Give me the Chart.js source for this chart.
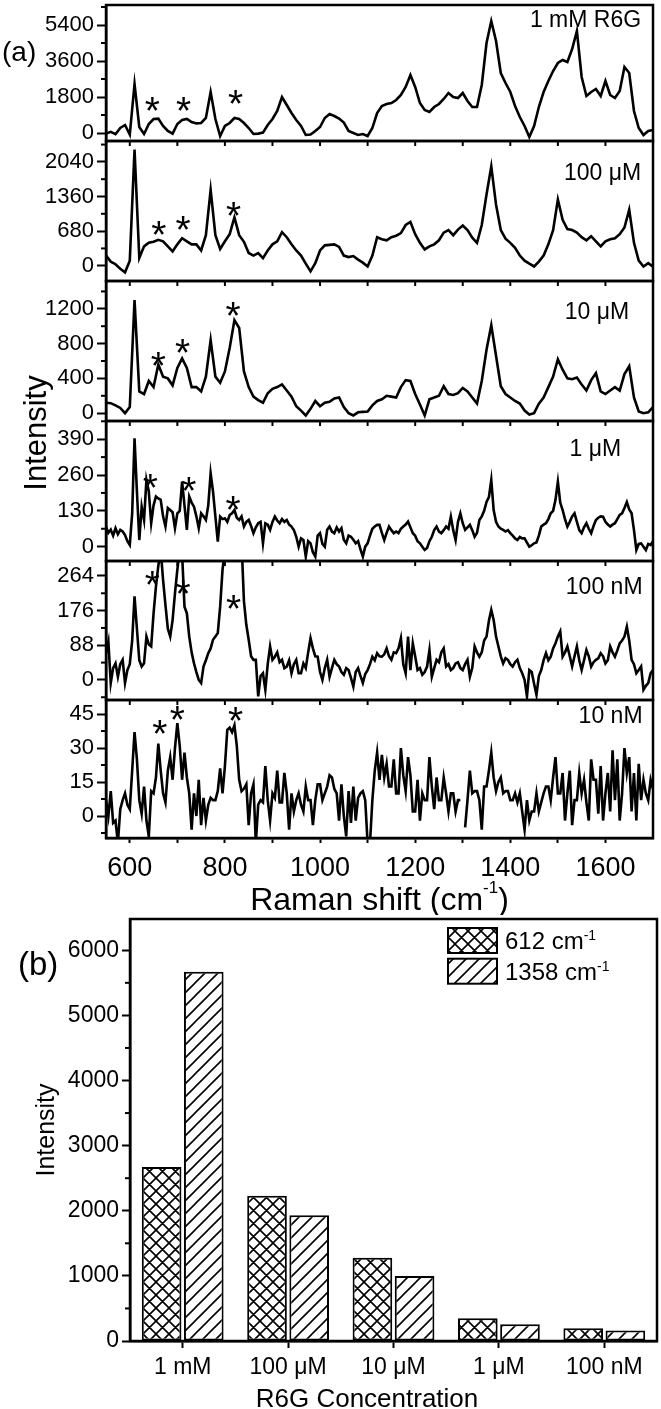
<!DOCTYPE html>
<html>
<head>
<meta charset="utf-8">
<script src="https://cdn.jsdelivr.net/npm/chart.js@4.4.1/dist/chart.umd.min.js"></script>
<style>
  html, body { margin: 0; padding: 0; background: #fff; overflow: hidden; }
  #chA { position: absolute; left: 0; top: 0; }
  #chB { position: absolute; left: 0; top: 905px; }
</style>
</head>
<body>
<canvas id="chA" width="661" height="915"></canvas>
<canvas id="chB" width="661" height="504"></canvas>
<script>
var FONT = '"Liberation Sans", Arial, Helvetica, sans-serif';

// ---- (a) SERS spectra ----
// Raman shift grids, cm-1 (coarse for the clean spectra, fine for the noisy ones)
var shiftCoarse = [
  550, 560, 570, 580, 590, 600, 610, 620, 630, 640,
  650, 660, 670, 680, 690, 700, 710, 720, 730, 740,
  750, 760, 770, 780, 790, 800, 810, 820, 830, 840,
  850, 860, 870, 880, 890, 900, 910, 920, 930, 940,
  950, 960, 970, 980, 990, 1000, 1010, 1020, 1030, 1040,
  1050, 1060, 1070, 1080, 1090, 1100, 1110, 1120, 1130, 1140,
  1150, 1160, 1170, 1180, 1190, 1200, 1210, 1220, 1230, 1240,
  1250, 1260, 1270, 1280, 1290, 1300, 1310, 1320, 1330, 1340,
  1350, 1360, 1370, 1380, 1390, 1400, 1410, 1420, 1430, 1440,
  1450, 1460, 1470, 1480, 1490, 1500, 1510, 1520, 1530, 1540,
  1550, 1560, 1570, 1580, 1590, 1600, 1610, 1620, 1630, 1640,
  1650, 1660, 1670, 1680, 1690, 1700
];
var shiftFine = [
  550, 555, 560, 565, 570, 575, 580, 585, 590, 595,
  600, 605, 610, 615, 620, 625, 630, 635, 640, 645,
  650, 655, 660, 665, 670, 675, 680, 685, 690, 695,
  700, 705, 710, 715, 720, 725, 730, 735, 740, 745,
  750, 755, 760, 765, 770, 775, 780, 785, 790, 795,
  800, 805, 810, 815, 820, 825, 830, 835, 840, 845,
  850, 855, 860, 865, 870, 875, 880, 885, 890, 895,
  900, 905, 910, 915, 920, 925, 930, 935, 940, 945,
  950, 955, 960, 965, 970, 975, 980, 985, 990, 995,
  1000, 1005, 1010, 1015, 1020, 1025, 1030, 1035, 1040, 1045,
  1050, 1055, 1060, 1065, 1070, 1075, 1080, 1085, 1090, 1095,
  1100, 1105, 1110, 1115, 1120, 1125, 1130, 1135, 1140, 1145,
  1150, 1155, 1160, 1165, 1170, 1175, 1180, 1185, 1190, 1195,
  1200, 1205, 1210, 1215, 1220, 1225, 1230, 1235, 1240, 1245,
  1250, 1255, 1260, 1265, 1270, 1275, 1280, 1285, 1290, 1295,
  1300, 1305, 1310, 1315, 1320, 1325, 1330, 1335, 1340, 1345,
  1350, 1355, 1360, 1365, 1370, 1375, 1380, 1385, 1390, 1395,
  1400, 1405, 1410, 1415, 1420, 1425, 1430, 1435, 1440, 1445,
  1450, 1455, 1460, 1465, 1470, 1475, 1480, 1485, 1490, 1495,
  1500, 1505, 1510, 1515, 1520, 1525, 1530, 1535, 1540, 1545,
  1550, 1555, 1560, 1565, 1570, 1575, 1580, 1585, 1590, 1595,
  1600, 1605, 1610, 1615, 1620, 1625, 1630, 1635, 1640, 1645,
  1650, 1655, 1660, 1665, 1670, 1675, 1680, 1685, 1690, 1695,
  1700
];

var int1mM = [
  -30, 60, -60, 250, 400, -80, 2450, 300, -50, 450,
  700, 720, 350, 100, -30, 450, 650, 700, 550, 480,
  500, 750, 2050, 700, -150, 350, 500, 750, 700, 500,
  250, -50, -30, 20, 400, 700, 1100, 1800, 1400, 1000,
  650, 350, -100, -80, 100, 300, 750, 950, 850, 720,
  520, 100, 0, -100, -50, -150, 250, 1000, 1350, 1450,
  1500, 1650, 1900, 2300, 2900, 2300, 1500, 1150, 1050, 1300,
  1450, 1700, 2000, 1800, 1750, 2000, 1600, 1300, 1300, 2400,
  4500, 5600, 4600, 3000, 2500, 2050, 1350, 800, 350, -200,
  350, 1300, 2050, 2600, 3100, 3500, 3650, 3550, 4200, 5100,
  2800, 1850, 2050, 2200, 1850, 2600, 1900, 1750, 2100, 3300,
  3000, 1100, 250, -100, 100, 150
];
var int100uM = [
  200, 80, 30, -60, -130, 100, 2280, 150, 380, 450,
  470, 510, 480, 380, 280, 420, 540, 480, 420, 420,
  300, 600, 1490, 600, 330, 480, 620, 950, 600, 470,
  250, 200, 250, 150, 300, 420, 480, 660, 560, 420,
  300, 200, 40, -110, 50, 300, 400, 410, 420, 370,
  200, 170, 190, 120, 60, -15, 200, 560, 520, 500,
  560, 590, 640, 800, 860, 620, 450, 320, 380, 420,
  500, 650, 700, 600, 710, 790, 700, 550, 450, 800,
  1400, 1950, 1200, 700, 530, 450, 350, 200, 100, 40,
  -15, 80, 200, 420, 700, 1300, 900, 720, 700, 650,
  560, 500, 580, 480, 380, 480, 520, 540, 620, 750,
  1100, 450, 100, -15, 50, -20
];
var int10uM = [
  120, 115, 90, 60, 0, 70, 1300, 250, 220, 370,
  300, 560, 420, 400, 320, 520, 630, 520, 300, 300,
  250, 420, 840, 420, 350, 480, 750, 1070, 980, 480,
  300, 190, 150, 120, 230, 280, 300, 330, 260, 190,
  80, 30, -26, 50, 140, 80, 120, 130, 170, 180,
  70, 0, -26, 10, 15, 20, 90, 140, 160, 200,
  190, 180, 300, 380, 370, 220, 100, -26, 160, 180,
  200, 310, 220, 210, 230, 290, 250, 180, 110, 370,
  730, 1010, 660, 310, 220, 180, 140, 110, 30, -15,
  0, 110, 180, 300, 420, 620, 500, 400, 390, 410,
  330, 260, 380, 460, 250, 220, 260, 300, 260, 450,
  540, 180, 20, 0, 10, 70
];
var int1uM = [
  73, 50, 62, 40, 67, 45, 61, 55, 42, 20,
  6, 120, 393, 200, 24, 145, 97, 242, 200, 85,
  150, 182, 175, 170, 110, 73, 140, 133, 125, 67,
  121, 130, 236, 150, 61, 182, 160, 145, 110, 67,
  121, 110, 97, 150, 266, 200, 109, 18, 109, 100,
  103, 90, 115, 121, 133, 105, 97, 110, 73, 90,
  97, 75, 49, 70, 85, 90, 12, 85, 80, 61,
  90, 109, 95, 85, 100, 90, 97, 80, 73, 60,
  36, 0, 30, 24, -36, 20, 12, -20, -36, 40,
  49, 10, 0, 61, 73, 55, 49, 70, 55, 67,
  25, 12, 40, 36, 25, 12, 20, -10, -36, 0,
  12, 40, 65, 73, 79, 79, 50, 24, 50, 73,
  60, 49, 55, 49, 65, 73, 80, 91, 70, 49,
  40, 20, 12, 0, -12, -5, 20, 36, 60, 73,
  55, 49, 60, 73, 65, 109, 60, 24, 90, 121,
  85, 61, 70, 79, 60, 36, 50, 97, 110, 130,
  162, 180, 242, 133, 90, 73, 65, 61, 55, 60,
  49, 40, 30, 24, 35, 30, 30, 15, 0, 5,
  12, 15, 40, 73, 80, 85, 100, 121, 130, 170,
  236, 160, 133, 100, 73, 90, 110, 121, 90, 60,
  49, 70, 85, 65, 49, 75, 97, 105, 110, 109,
  90, 80, 73, 80, 85, 100, 115, 121, 140, 162,
  135, 121, 60, -12, 10, 12, 0, -12, 10, 6,
  20
];
var int100nM = [
  68, 97, -8, 30, 42, 8, 40, 51, -8, 25,
  40, 100, 212, 130, 50, 34, 42, 110, 90, 85,
  169, 237, 290, 330, 254, 190, 130, 110, 152, 220,
  280, 330, 320, 186, 169, 110, 70, 42, 20, 0,
  -8, 34, 50, 68, 80, 102, 110, 119, 186, 280,
  330, 450, 550, 600, 620, 600, 500, 350, 200, 140,
  102, 60, 51, 51, -42, 10, 17, -25, 40, 85,
  51, 59, 70, 45, 51, 30, 34, 50, 17, 40,
  51, 17, 17, 42, 30, 70, 106, 80, 60, 59,
  20, 0, 30, 51, 8, 30, 51, 40, 34, 20,
  13, 30, 25, 5, -17, 20, 30, 10, -8, 15,
  25, 40, 59, 50, 68, 60, 59, 65, 80, 60,
  51, 70, 68, 80, 106, 40, 17, 110, 25, 93,
  60, 25, 30, 13, 20, 34, 76, 8, 30, 51,
  45, 70, 80, 34, 40, 25, 30, 42, 45, 30,
  25, 40, 51, 8, 30, 85, 70, 59, 70, 100,
  110, 150, 178, 152, 110, 85, 60, 42, 55, 51,
  40, 34, 45, 51, 30, 17, 0, -42, 25, 20,
  -10, -38, 10, 25, 50, 68, 50, 59, 80, 93,
  110, 123, 59, 70, 85, 60, 34, 60, 85, 50,
  25, 50, 76, 60, 34, 45, 51, 55, 68, 60,
  42, 50, 85, 70, 59, 75, 93, 100, 110, 135,
  100, 51, 40, 17, 25, 34, -25, -15, -8, 17,
  25
];
var int10nM = [
  7, 0, 11, -3, -2, -12, 3, 7, 10, 5,
  3, 20, 37, 25, 7, 1, 13, -2, -9, 11,
  10, 17, 32, 20, 10, 6, 20, 26, 16, 30,
  41, 31, 16, 28, 17, 10, -6, 10, 0, 16,
  -4, 8, -2, 5, 8, 7, 7, 11, 21, 10,
  22, 38, 39, 37, 40, 31, 16, 11, 12, 14,
  -4, 10, 14, -12, 5, 7, 6, 22, 7, -2,
  10, 8, 20, 6, 6, 19, 10, -6, 10, 2,
  7, 10, 5, 2, 13, 7, 7, -4, 7, 14,
  14, 7, 10, 13, 18, 17, 12, 10, -2, 14,
  0, -9, 11, -3, 13, -2, 8, 10, 11, 7,
  -12, -12, 7, 20, 28, 16, 27, 17, 23, 13,
  13, 25, 10, 10, 30, 18, 11, 26, 18, 2,
  2, 16, -2, 10, 7, 7, 26, 13, 3, 17,
  7, 7, 17, 10, 2, 10, 10, 2, 7, 7,
  null, -5, 7, 20, 10, 11, 11, 7, -6, 13,
  13, 20, 28, 17, 11, 15, 17, 10, 11, 11,
  7, 7, 10, 6, 10, 2, -6, 7, -2, 2,
  2, 10, 2, 6, 10, 13, 13, 7, 17, 26,
  10, 10, 19, -2, 10, 20, -4, 7, 7, 19,
  10, 16, 6, -2, 25, 16, 16, 1, 22, -2,
  10, 19, 2, 29, 7, 25, -2, 10, 30, 19,
  26, 2, 19, -2, 23, 7, 16, 10, 7, 16,
  12
];

var panelNames = ['1 mM R6G', '100 \u03bcM', '10 \u03bcM', '1 \u03bcM', '100 nM', '10 nM'];
var panelTicks = [[0, 1800, 3600, 5400], [0, 680, 1360, 2040], [0, 400, 800, 1200],
                  [0, 130, 260, 390], [0, 88, 176, 264], [0, 15, 30, 45]];
var panelMin = [-400, -300, -90, -52, -51, -9.7];
var panelMax = [6400, 2450, 1520, 456, 302, 51.2];
var xTicks = [600, 700, 800, 900, 1000, 1100, 1200, 1300, 1400, 1500, 1600];
var xTickLabels = [600, 800, 1000, 1200, 1400, 1600];

// asterisks over the substrate bands (shift, intensity) per panel
var starShift = [[647, 713, 822], [661, 712, 818], [660, 711, 817], [643, 724, 817], [647, 712, 818], [663, 700, 822]];
var starValue = [[1470, 1470, 1800], [739, 849, 1111], [623, 768, 1198], [238, 226, 160], [258, 237, 199], [39.4, 45.3, 45]];
// concentration labels: right edge shift, centre intensity
var labelShift = [1675, 1675, 1650, 1633, 1678, 1678];
var labelValue = [5600, 1817, 1152, 351, 235, 43.8];

// ---- (b) peak intensities ----
var concLabels = ['1 mM', '100 \u03bcM', '10 \u03bcM', '1 \u03bcM', '100 nM'];
var peak612 = [2670, 2230, 1280, 350, 195];
var peak1358 = [5670, 1930, 1000, 257, 160];
var yTicksB = [0, 1000, 2000, 3000, 4000, 5000, 6000];

// layout of the stacked spectra panels
var panelIds = ['y1', 'y2', 'y3', 'y4', 'y5', 'y6'];
var panelHeights = [136, 140, 140, 140, 139, 138];
var spectra = [
  [shiftCoarse, int1mM], [shiftCoarse, int100uM], [shiftCoarse, int10uM],
  [shiftFine, int1uM], [shiftFine, int100nM], [shiftFine, int10nM]
];

function line(ctx, x1, y1, x2, y2) {
  ctx.beginPath(); ctx.moveTo(x1, y1); ctx.lineTo(x2, y2); ctx.stroke();
}

// text made of runs, some raised (superscripts)
function drawRuns(ctx, runs, x, baseline, align) {
  var total = 0;
  ctx.textAlign = 'left';
  ctx.textBaseline = 'alphabetic';
  runs.forEach(function (r) {
    ctx.font = r.size + 'px ' + FONT;
    r.w = ctx.measureText(r.text).width;
    total += r.w;
  });
  var cx = align === 'center' ? x - total / 2 : x;
  runs.forEach(function (r) {
    ctx.font = r.size + 'px ' + FONT;
    ctx.fillText(r.text, cx, baseline - (r.rise || 0));
    cx += r.w;
  });
}

function drawStar(ctx, cx, cy, h) {
  ctx.textAlign = 'left';
  ctx.textBaseline = 'alphabetic';
  ctx.font = '100px ' + FONT;
  var m = ctx.measureText('*');
  var size = 100 * h / (m.actualBoundingBoxAscent + m.actualBoundingBoxDescent);
  ctx.font = size + 'px ' + FONT;
  m = ctx.measureText('*');
  ctx.fillText('*', cx - (m.actualBoundingBoxRight - m.actualBoundingBoxLeft) / 2,
    cy + (m.actualBoundingBoxAscent - m.actualBoundingBoxDescent) / 2);
}

var spectraDecor = {
  id: 'spectraDecor',
  beforeDatasetDraw: function (chart, args) {
    var ys = args.meta.yScale, a = chart.chartArea, ctx = chart.ctx;
    ctx.save();
    ctx.beginPath();
    ctx.rect(a.left, ys.top, a.right - a.left, ys.bottom - ys.top);
    ctx.clip();
  },
  afterDatasetDraw: function (chart) {
    chart.ctx.restore();
  },
  afterDraw: function (chart) {
    var ctx = chart.ctx, a = chart.chartArea, xs = chart.scales.x;
    ctx.save();
    ctx.strokeStyle = '#000';
    ctx.fillStyle = '#000';
    panelIds.forEach(function (id, p) {
      var ys = chart.scales[id];
      ctx.lineWidth = 2.5;
      ctx.strokeRect(a.left, ys.top, a.right - a.left, ys.bottom - ys.top);
      // minor ticks half way between the labelled ones
      var t = panelTicks[p], half = (t[1] - t[0]) / 2;
      ctx.lineWidth = 2;
      t.concat([t[t.length - 1] + 2 * half]).forEach(function (v) {
        var m = v - half;
        if (m < panelMin[p] || m > panelMax[p]) return;
        var py = ys.getPixelForValue(m);
        line(ctx, a.left - 5, py, a.left, py);
      });
      // x ticks on the lower edge of the inner panels
      if (p < panelIds.length - 1) {
        xTicks.forEach(function (v) {
          var px = xs.getPixelForValue(v);
          line(ctx, px, ys.bottom, px, ys.bottom + 5);
        });
      }
      ctx.font = '23px ' + FONT;
      ctx.textAlign = 'right';
      ctx.textBaseline = 'middle';
      ctx.fillText(panelNames[p], xs.getPixelForValue(labelShift[p]), ys.getPixelForValue(labelValue[p]));
      starShift[p].forEach(function (s, k) {
        drawStar(ctx, xs.getPixelForValue(s), ys.getPixelForValue(starValue[p][k]), 14);
      });
    });
    // panel tag, shared y title, x title
    ctx.font = '28px ' + FONT;
    ctx.textAlign = 'left';
    ctx.textBaseline = 'alphabetic';
    ctx.fillText('(a)', 2, 61);
    ctx.save();
    ctx.translate(37, 433);
    ctx.rotate(-Math.PI / 2);
    ctx.font = '31px ' + FONT;
    ctx.textAlign = 'center';
    ctx.textBaseline = 'middle';
    ctx.fillText('Intensity', 0, 0);
    ctx.restore();
    drawRuns(ctx, [
      { text: 'Raman shift (cm', size: 32 },
      { text: '-1', size: 17, rise: 17 },
      { text: ')', size: 32 }
    ], (a.left + a.right) / 2, 910, 'center');
    ctx.restore();
  }
};

var scalesA = {
  x: {
    type: 'linear', min: 550, max: 1700,
    afterBuildTicks: function (s) { s.ticks = xTicks.map(function (v) { return { value: v }; }); },
    afterFit: function (s) { s.height = 77; s.paddingLeft = 0; s.paddingRight = 0; },
    border: { display: true, color: '#000', width: 2.5 },
    grid: { drawOnChartArea: false, tickLength: 5, tickWidth: 2, tickColor: '#000' },
    ticks: {
      color: '#000', font: { family: FONT, size: 27 }, padding: 9, maxRotation: 0, autoSkip: false,
      callback: function (v) { return xTickLabels.indexOf(v) >= 0 ? String(v) : ''; }
    }
  }
};
panelIds.forEach(function (id, p) {
  scalesA[id] = {
    type: 'linear', position: 'left', stack: 'spectra', stackWeight: panelHeights[p], weight: panelIds.length - p,
    min: panelMin[p], max: panelMax[p],
    afterBuildTicks: function (s) { s.ticks = panelTicks[p].map(function (v) { return { value: v }; }); },
    afterFit: function (s) { s.width = 106; s.paddingTop = 0; s.paddingBottom = 0; },
    border: { display: true, color: '#000', width: 2.5 },
    grid: { drawOnChartArea: false, tickLength: 9, tickWidth: 2, tickColor: '#000' },
    ticks: { color: '#000', font: { family: FONT, size: 22 }, padding: 3, autoSkip: false,
             callback: function (v) { return String(v); } }
  };
});

new Chart(document.getElementById('chA'), {
  type: 'line',
  data: {
    datasets: spectra.map(function (sp, i) {
      return {
        label: panelNames[i],
        data: sp[0].map(function (s, k) { return { x: s, y: sp[1][k] }; }),
        yAxisID: panelIds[i],
        borderColor: '#000',
        borderWidth: 2.6,
        pointRadius: 0,
        tension: 0,
        spanGaps: false
      };
    })
  },
  options: {
    responsive: false,
    animation: false,
    layout: { padding: { top: 5, right: 8, left: 0, bottom: 0 } },
    plugins: { legend: { display: false }, tooltip: { enabled: false } },
    scales: scalesA
  },
  plugins: [spectraDecor]
});

// ---- (b) bar chart ----
var ctxB = document.getElementById('chB').getContext('2d');
function makePattern(kind) {
  var s = 13, c = document.createElement('canvas');
  c.width = s; c.height = s;
  var g = c.getContext('2d');
  g.fillStyle = '#fff';
  g.fillRect(0, 0, s, s);
  g.strokeStyle = '#000';
  g.lineWidth = 1.6;
  g.beginPath();
  for (var k = -1; k <= 1; k++) {
    g.moveTo(k * s - 1, s + 1); g.lineTo(k * s + s + 1, -1);
    if (kind === 'cross') { g.moveTo(k * s - 1, -1); g.lineTo(k * s + s + 1, s + 1); }
  }
  g.stroke();
  return ctxB.createPattern(c, 'repeat');
}
var crossFill = makePattern('cross');
var hatchFill = makePattern('hatch');

var barDecor = {
  id: 'barDecor',
  afterDraw: function (chart) {
    var ctx = chart.ctx, a = chart.chartArea, ys = chart.scales.y;
    ctx.save();
    ctx.strokeStyle = '#000';
    ctx.fillStyle = '#000';
    ctx.lineWidth = 2.5;
    ctx.strokeRect(a.left, a.top, a.right - a.left, a.bottom - a.top);
    var half = (yTicksB[1] - yTicksB[0]) / 2;
    ctx.lineWidth = 2;
    yTicksB.forEach(function (v) {
      if (v + half > ys.max) return;
      var py = ys.getPixelForValue(v + half);
      line(ctx, a.left - 5, py, a.left, py);
    });
    // legend
    var lx = a.left + 318, ly = a.top + 9;
    chart.data.datasets.forEach(function (ds, i) {
      var top = ly + i * 30.7;
      ctx.fillStyle = ds.backgroundColor;
      ctx.fillRect(lx, top, 49, 25);
      ctx.lineWidth = 2;
      ctx.strokeRect(lx, top, 49, 25);
      ctx.fillStyle = '#000';
      drawRuns(ctx, [{ text: ds.label + ' cm', size: 24 }, { text: '-1', size: 14, rise: 9 }], lx + 57, top + 21, 'left');
    });
    ctx.font = '33px ' + FONT;
    ctx.textAlign = 'left';
    ctx.textBaseline = 'alphabetic';
    ctx.fillText('(b)', 18, 70);
    ctx.save();
    ctx.translate(47, (a.top + a.bottom) / 2);
    ctx.rotate(-Math.PI / 2);
    ctx.font = '25px ' + FONT;
    ctx.textAlign = 'center';
    ctx.textBaseline = 'middle';
    ctx.fillText('Intensity', 0, 0);
    ctx.restore();
    ctx.font = '26px ' + FONT;
    ctx.textAlign = 'center';
    ctx.textBaseline = 'alphabetic';
    ctx.fillText('R6G Concentration', 367, 502);
    ctx.restore();
  }
};

new Chart(ctxB, {
  type: 'bar',
  data: {
    labels: concLabels,
    datasets: [
      { label: '612', data: peak612, backgroundColor: crossFill, borderColor: '#000', borderWidth: 2,
        borderSkipped: false, barPercentage: 0.94, categoryPercentage: 0.8 },
      { label: '1358', data: peak1358, backgroundColor: hatchFill, borderColor: '#000', borderWidth: 2,
        borderSkipped: false, barPercentage: 0.94, categoryPercentage: 0.8 }
    ]
  },
  options: {
    responsive: false,
    animation: false,
    layout: { padding: { top: 14, right: 4, left: 0, bottom: 0 } },
    plugins: { legend: { display: false }, tooltip: { enabled: false } },
    scales: {
      x: {
        afterFit: function (s) { s.height = 68; s.paddingLeft = 0; s.paddingRight = 0; },
        border: { display: true, color: '#000', width: 2.5 },
        grid: { offset: false, drawOnChartArea: false, tickLength: 7, tickWidth: 2, tickColor: '#000' },
        ticks: { color: '#000', font: { family: FONT, size: 23 }, padding: 6, maxRotation: 0, autoSkip: false }
      },
      y: {
        min: 0, max: 6480,
        afterBuildTicks: function (s) { s.ticks = yTicksB.map(function (v) { return { value: v }; }); },
        afterFit: function (s) { s.width = 130; s.paddingTop = 0; s.paddingBottom = 0; },
        border: { display: true, color: '#000', width: 2.5 },
        grid: { drawOnChartArea: false, tickLength: 8, tickWidth: 2, tickColor: '#000' },
        ticks: { color: '#000', font: { family: FONT, size: 23 }, padding: 3, autoSkip: false,
                 callback: function (v) { return String(v); } }
      }
    }
  },
  plugins: [barDecor]
});
</script>
</body>
</html>
